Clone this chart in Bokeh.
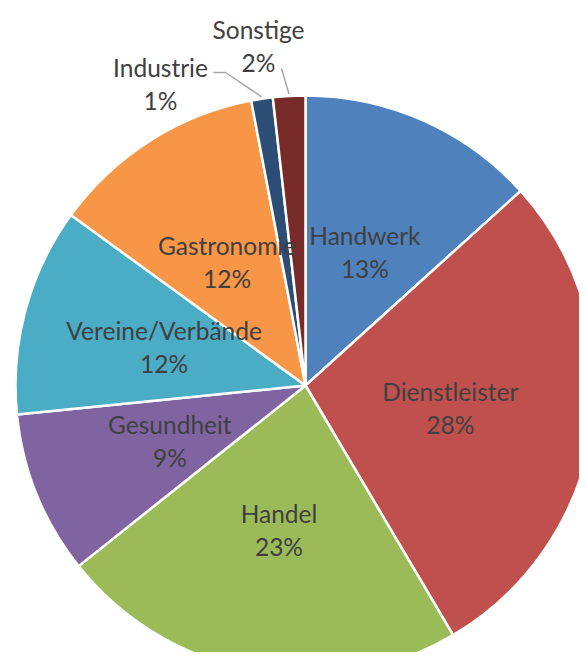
import math
from bokeh.plotting import figure
from bokeh.models import Range1d, ColumnDataSource
from bokeh.core.properties import value
from bokeh.embed import file_html
from bokeh.resources import INLINE

# ---- data ----
categories = ["Handwerk", "Dienstleister", "Handel", "Gesundheit",
              "Vereine/Verbände", "Gastronomie", "Industrie", "Sonstige"]
shares = [13.3, 28.2, 22.8, 9.1, 11.6, 12.0, 1.2, 1.8]
colors = ["#4F81BD", "#C0504D", "#9BBB59", "#8064A2",
          "#4BACC6", "#F79646", "#2C4D75", "#772C2A"]
outside = ["Industrie", "Sonstige"]

# ---- layout (figure pixel units, y measured from top via Y()) ----
W, H = 579, 652


def Y(v):
    return H - v


CX, CY = 305, Y(385)
R = 290
FONT = "Lato"
FS = "24.5px"
TXT = "#404040"

total = sum(shares)
starts, ends, mids = [], [], []
cum = 0.0
for s in shares:
    a0 = math.pi / 2 - 2 * math.pi * (cum + s) / total
    a1 = math.pi / 2 - 2 * math.pi * cum / total
    starts.append(a0)
    ends.append(a1)
    mids.append((a0 + a1) / 2)
    cum += s
pcts = [f"{round(100 * s / total)}%" for s in shares]

p = figure(width=W, height=H, output_backend="svg", toolbar_location=None,
           x_range=Range1d(0, W), y_range=Range1d(0, H),
           min_border=0, outline_line_color=None)
p.axis.visible = False
p.grid.visible = False

src = ColumnDataSource(dict(start=starts, end=ends, color=colors))
p.wedge(x=CX, y=CY, radius=R, start_angle="start", end_angle="end",
        fill_color="color", line_color="white", line_width=2.5, source=src)

# inside labels
ix, iy1, iy2, inames, ipcts = [], [], [], [], []
for c, m, pc in zip(categories, mids, pcts):
    if c in outside:
        continue
    x = CX + 0.505 * R * math.cos(m)
    y = CY + 0.505 * R * math.sin(m)
    ix.append(x)
    iy1.append(y + 16.5)
    iy2.append(y - 16.5)
    inames.append(c)
    ipcts.append(pc)
p.text(x=ix, y=iy1, text=inames, text_font=value(FONT), text_font_size=FS,
       text_color=TXT, text_align="center", text_baseline="middle")
p.text(x=ix, y=iy2, text=ipcts, text_font=value(FONT), text_font_size=FS,
       text_color=TXT, text_align="center", text_baseline="middle")

# outside labels with leader lines
label_pos = {"Industrie": (160, Y(83)), "Sonstige": (258, Y(45))}
for c, m, pc in zip(categories, mids, pcts):
    if c not in outside:
        continue
    lx, ly = label_pos[c]
    p.text(x=[lx], y=[ly + 16.5], text=[c], text_font=value(FONT), text_font_size=FS,
           text_color=TXT, text_align="center", text_baseline="middle")
    p.text(x=[lx], y=[ly - 16.5], text=[pc], text_font=value(FONT), text_font_size=FS,
           text_color=TXT, text_align="center", text_baseline="middle")
    ex = CX + (R + 2) * math.cos(m)
    ey = CY + (R + 2) * math.sin(m)
    if c == "Industrie":
        xs = [lx + 53, lx + 65, ex]
        ys = [ly + 11, ly + 11, ey]
    else:
        xs = [lx + 23, ex]
        ys = [ly - 23, ey]
    p.line(x=xs, y=ys, line_color="#A6A6A6", line_width=1.5)

open("out.html", "w").write(file_html(p, INLINE))
